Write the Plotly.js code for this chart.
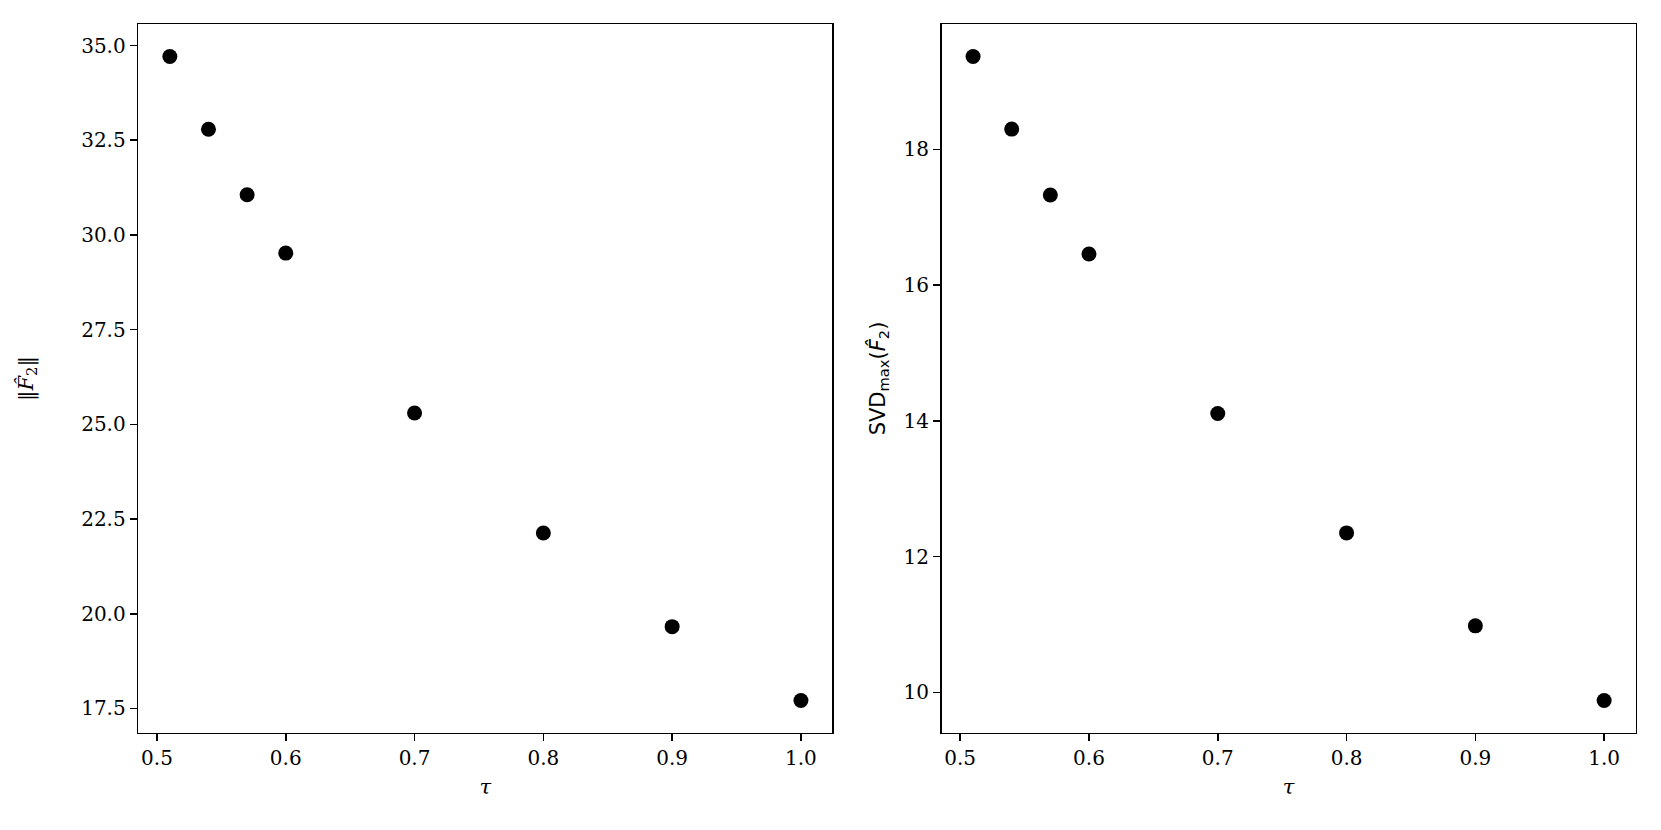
<!DOCTYPE html>
<html>
<head>
<meta charset="utf-8">
<script src="https://cdn.plot.ly/plotly-3.0.1.min.js"></script>
<style>
  html, body { margin: 0; padding: 0; background: #fff; }
  #chart { width: 1661px; height: 830px; }
</style>
</head>
<body>
<div id="chart"></div>
<script>
// tau values on the x axis (same for both panels)
const tauValues = [0.51, 0.54, 0.57, 0.6, 0.7, 0.8, 0.9, 1.0];
// left panel: norm of F2 hat
const normF2 = [34.71, 32.79, 31.06, 29.52, 25.30, 22.13, 19.66, 17.71];
// right panel: largest singular value of F2 hat
const svdMaxF2 = [19.37, 18.30, 17.33, 16.46, 14.11, 12.35, 10.98, 9.88];

const leftTicks = [17.5, 20.0, 22.5, 25.0, 27.5, 30.0, 32.5, 35.0];
const rightTicks = [10, 12, 14, 16, 18];
const xTicks = [0.5, 0.6, 0.7, 0.8, 0.9, 1.0];

// matplotlib style 5% padding around data
const padRange = (arr) => {
  const lo = Math.min(...arr), hi = Math.max(...arr);
  const m = (hi - lo) * 0.05;
  return [lo - m, hi + m];
};

const serif = "DejaVu Serif, serif";
const sans = "DejaVu Sans, sans-serif";

const marker = { color: "#000", size: 15 };

const leftPoints = {
  x: tauValues,
  y: normF2,
  type: "scatter",
  mode: "markers",
  marker: marker,
  xaxis: "x",
  yaxis: "y",
  showlegend: false,
};

const rightPoints = {
  x: tauValues,
  y: svdMaxF2,
  type: "scatter",
  mode: "markers",
  marker: marker,
  xaxis: "x2",
  yaxis: "y2",
  showlegend: false,
};

const baseAxis = {
  showline: true,
  mirror: true,
  linecolor: "#000",
  linewidth: 1.6,
  ticks: "outside",
  ticklen: 7,
  tickwidth: 1.5,
  tickcolor: "#000",
  showgrid: false,
  zeroline: false,
  tickfont: { family: serif, size: 20, color: "#000" },
};

const xAxisCommon = Object.assign({}, baseAxis, {
  range: padRange(tauValues),
  tickvals: xTicks,
  ticktext: xTicks.map((v) => v.toFixed(1)),
  title: {
    text: "<i>τ</i>",
    font: { family: serif, size: 21, color: "#000" },
    standoff: 10,
  },
});

const layout = {
  width: 1661,
  height: 830,
  margin: { l: 0, r: 0, t: 0, b: 0 },
  paper_bgcolor: "#fff",
  plot_bgcolor: "#fff",
  xaxis: Object.assign({}, xAxisCommon, { domain: [0.08326, 0.5012], anchor: "y" }),
  xaxis2: Object.assign({}, xAxisCommon, { domain: [0.56683, 0.98477], anchor: "y2" }),
  yaxis: Object.assign({}, baseAxis, {
    domain: [0.11723, 0.97072],
    anchor: "x",
    range: padRange(normF2),
    tickvals: leftTicks,
    ticktext: leftTicks.map((v) => v.toFixed(1)),
    title: {
      text: "‖<i>F̂</i><sub>2</sub>‖",
      font: { family: serif, size: 21, color: "#000" },
      standoff: 42,
    },
  }),
  yaxis2: Object.assign({}, baseAxis, {
    domain: [0.11723, 0.97072],
    anchor: "x2",
    range: padRange(svdMaxF2),
    tickvals: rightTicks,
    ticktext: rightTicks.map((v) => String(v)),
    title: {
      text: "SVD<sub>max</sub>(<i>F̂</i><sub>2</sub>)",
      font: { family: sans, size: 21, color: "#000" },
      standoff: 12,
    },
  }),
};

Plotly.newPlot(document.getElementById("chart"), [leftPoints, rightPoints], layout, {
  displayModeBar: false,
  staticPlot: true,
});
</script>
</body>
</html>
